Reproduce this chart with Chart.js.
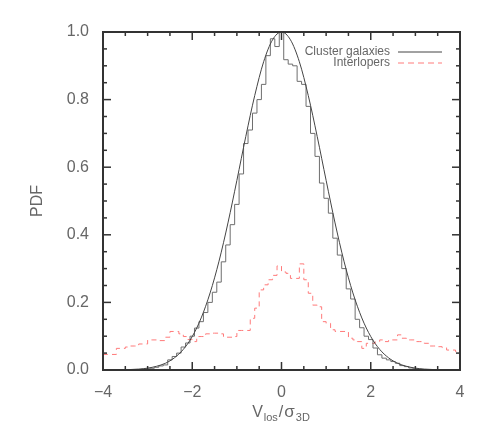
<!DOCTYPE html>
<html>
<head>
<meta charset="utf-8">
<script src="https://cdn.jsdelivr.net/npm/chart.js@4.4.1/dist/chart.umd.min.js"></script>
<style>
  html, body { margin: 0; padding: 0; background: #fff; }
  #pdfChart { display: block; }
</style>
</head>
<body>
<canvas id="pdfChart" width="491" height="436"></canvas>
<script>
// Axis ticks
const xTicks = [-4, -2, 0, 2, 4];
const yTicks = [0, 0.2, 0.4, 0.6, 0.8, 1.0];
const xMinorStep = 0.5;
const yMinorStep = 0.05;

// Gaussian curve (cluster galaxies)
const curveX = [-4, -3.8, -3.6, -3.4, -3.2, -3, -2.8, -2.6, -2.4, -2.2, -2, -1.8, -1.6, -1.4, -1.2, -1, -0.8, -0.6, -0.4, -0.2,
  0, 0.2, 0.4, 0.6, 0.8, 1, 1.2, 1.4, 1.6, 1.8, 2, 2.2, 2.4, 2.6, 2.8, 3, 3.2, 3.4, 3.6, 3.8, 4];
const curveY = [0.0001, 0.0002, 0.0006, 0.0013, 0.0027, 0.0055, 0.011, 0.020, 0.036, 0.061, 0.099, 0.154, 0.228, 0.322, 0.435, 0.561, 0.691, 0.812, 0.912, 0.977,
  1.0, 0.977, 0.912, 0.812, 0.691, 0.561, 0.435, 0.322, 0.228, 0.154, 0.099, 0.061, 0.036, 0.020, 0.011, 0.0055, 0.0027, 0.0013, 0.0006, 0.0002, 0.0001];

// Histogram of cluster galaxies (bins of 0.1 starting at -3.25)
const clusterBinStart = -3.25;
const clusterBinWidth = 0.1;
const clusterPdf = [0.001, 0.002, 0.003, 0.005, 0.008, 0.012, 0.015, 0.03, 0.04, 0.05, 0.068, 0.08, 0.10, 0.124, 0.143, 0.17,
  0.20, 0.23, 0.26, 0.32, 0.37, 0.43, 0.49, 0.58, 0.67, 0.71, 0.76, 0.80, 0.845, 0.93, 0.98, 0.957,
  1.0,
  0.918, 0.905, 0.90, 0.854, 0.845, 0.78, 0.70, 0.632, 0.553, 0.508, 0.464, 0.39, 0.34, 0.30, 0.24, 0.21,
  0.15, 0.125, 0.10, 0.09, 0.065, 0.045, 0.035, 0.03, 0.025, 0.02, 0.013, 0.01, 0.006, 0.003, 0.002, 0.001];

// Histogram of interlopers (bins of 0.1 starting at -4)
const interloperBinStart = -4;
const interloperBinWidth = 0.1;
const interloperPdf = [0.046, 0.046, 0.046, 0.064, 0.064, 0.068, 0.071, 0.071, 0.077, 0.077,
  0.089, 0.089, 0.087, 0.087, 0.097, 0.114, 0.114, 0.107, 0.099, 0.09,
  0.084, 0.099, 0.099, 0.107, 0.109, 0.109, 0.107, 0.097, 0.097, 0.099,
  0.117, 0.117, 0.117, 0.153, 0.183, 0.237, 0.252, 0.267, 0.28, 0.308,
  0.29, 0.286, 0.271, 0.271, 0.314, 0.267, 0.227, 0.192, 0.187, 0.143,
  0.138, 0.119, 0.114, 0.114, 0.114, 0.094, 0.089, 0.084, 0.064, 0.079,
  0.079, 0.084, 0.089, 0.084, 0.089, 0.089, 0.104, 0.094, 0.089, 0.089,
  0.084, 0.084, 0.079, 0.071, 0.071, 0.069, 0.066, 0.059, 0.059, 0.054];

const legendLabels = ["Cluster galaxies", "Interlopers"];

// Colours
const axisColor = "#333333";
const textColor = "#666666";
const curveColor = "#444444";
const histColor = "#6e6e6e";
const interColor = "#ff7a7a";
const fontFamily = '"Liberation Sans", Arial, sans-serif';

// Turn bin values into stepped points
function histPoints(start, width, values, closeToZero) {
  const pts = values.map((v, i) => ({ x: start + i * width, y: v }));
  pts.push({ x: start + values.length * width, y: values[values.length - 1] });
  if (closeToZero) {
    pts.unshift({ x: start, y: 0 });
    pts.push({ x: start + values.length * width, y: 0 });
  }
  return pts;
}

// Frame, inward ticks, legend and axis titles
const framePlugin = {
  id: "frame",
  afterDatasetsDraw(chart) {
    const { ctx, chartArea: a, scales: { x, y } } = chart;
    ctx.save();
    ctx.strokeStyle = axisColor;
    ctx.lineWidth = 1.5;

    function seg(x1, y1, x2, y2) {
      ctx.beginPath();
      ctx.moveTo(x1, y1);
      ctx.lineTo(x2, y2);
      ctx.stroke();
    }

    const nx = Math.round((x.max - x.min) / xMinorStep);
    for (let i = 0; i <= nx; i++) {
      const v = x.min + i * xMinorStep;
      const px = x.getPixelForValue(v);
      const len = xTicks.some(t => Math.abs(t - v) < 1e-6) ? 8 : 4;
      seg(px, a.bottom, px, a.bottom - len);
      seg(px, a.top, px, a.top + len);
    }
    const ny = Math.round((y.max - y.min) / yMinorStep);
    for (let i = 0; i <= ny; i++) {
      const v = y.min + i * yMinorStep;
      const py = y.getPixelForValue(v);
      const len = yTicks.some(t => Math.abs(t - v) < 1e-6) ? 8 : 4;
      seg(a.left, py, a.left + len, py);
      seg(a.right, py, a.right - len, py);
    }

    ctx.lineWidth = 2;
    ctx.strokeRect(a.left, a.top, a.right - a.left, a.bottom - a.top);

    // Legend: label then line sample
    ctx.font = "12px " + fontFamily;
    ctx.fillStyle = textColor;
    ctx.textAlign = "right";
    ctx.textBaseline = "middle";
    const rows = [
      { text: legendLabels[0], color: curveColor, dash: [] },
      { text: legendLabels[1], color: interColor, dash: [6, 4] }
    ];
    rows.forEach((r, i) => {
      const ry = 52 + i * 11;
      ctx.fillText(r.text, 390, ry);
      ctx.strokeStyle = r.color;
      ctx.lineWidth = 1;
      ctx.setLineDash(r.dash);
      seg(398, ry, 442, ry);
      ctx.setLineDash([]);
    });

    // Y title
    ctx.fillStyle = textColor;
    ctx.font = "16px " + fontFamily;
    ctx.save();
    ctx.translate(38, (a.top + a.bottom) / 2);
    ctx.rotate(-Math.PI / 2);
    ctx.textAlign = "center";
    ctx.fillText("PDF", 0, 0);
    ctx.restore();

    // X title with subscripts
    const parts = [
      { t: "V", size: 16, dy: 0 },
      { t: "los", size: 11, dy: 4 },
      { t: "/", size: 16, dy: 0 },
      { t: "σ", size: 17, dy: 0 },
      { t: "3D", size: 11, dy: 4 }
    ];
    let total = 0;
    parts.forEach(p => {
      ctx.font = p.size + "px " + fontFamily;
      p.w = ctx.measureText(p.t).width + 1;
      total += p.w;
    });
    let cx = (a.left + a.right) / 2 - total / 2;
    ctx.textAlign = "left";
    ctx.textBaseline = "alphabetic";
    parts.forEach(p => {
      ctx.font = p.size + "px " + fontFamily;
      ctx.fillText(p.t, cx, 417 + p.dy);
      cx += p.w;
    });
    ctx.restore();
  }
};

function initChart() {
  const ctx = document.getElementById("pdfChart");

  const data = {
    datasets: [
      {
        label: legendLabels[0],
        data: curveX.map((v, i) => ({ x: v, y: curveY[i] })),
        borderColor: curveColor,
        borderWidth: 1,
        pointRadius: 0,
        cubicInterpolationMode: "monotone",
        clip: false
      },
      {
        label: "Cluster histogram",
        data: histPoints(clusterBinStart, clusterBinWidth, clusterPdf, true),
        borderColor: histColor,
        borderWidth: 1,
        pointRadius: 0,
        stepped: true
      },
      {
        label: legendLabels[1],
        data: histPoints(interloperBinStart, interloperBinWidth, interloperPdf, false),
        borderColor: interColor,
        borderWidth: 1,
        borderDash: [5, 4],
        pointRadius: 0,
        stepped: true
      }
    ]
  };

  const options = {
    responsive: false,
    animation: false,
    devicePixelRatio: 1,
    layout: { padding: { left: 0, top: 32, right: 31, bottom: 0 } },
    plugins: {
      legend: { display: false },
      tooltip: { enabled: false }
    },
    scales: {
      x: {
        type: "linear",
        min: -4,
        max: 4,
        afterBuildTicks: scale => { scale.ticks = xTicks.map(v => ({ value: v })); },
        afterFit: scale => { scale.height = 66; },
        grid: { display: false },
        border: { display: false },
        ticks: {
          color: textColor,
          padding: 5,
          maxRotation: 0,
          font: { family: fontFamily, size: 16 },
          callback: v => (v < 0 ? "\u2212" + Math.abs(v) : String(v))
        }
      },
      y: {
        type: "linear",
        min: 0,
        max: 1.0,
        afterBuildTicks: scale => { scale.ticks = yTicks.map(v => ({ value: v })); },
        afterFit: scale => { scale.width = 103; },
        grid: { display: false },
        border: { display: false },
        ticks: {
          color: textColor,
          padding: 6,
          font: { family: fontFamily, size: 16 },
          callback: v => v.toFixed(1)
        }
      }
    }
  };

  return new Chart(ctx, { type: "line", data: data, options: options, plugins: [framePlugin] });
}

initChart();
</script>
</body>
</html>
